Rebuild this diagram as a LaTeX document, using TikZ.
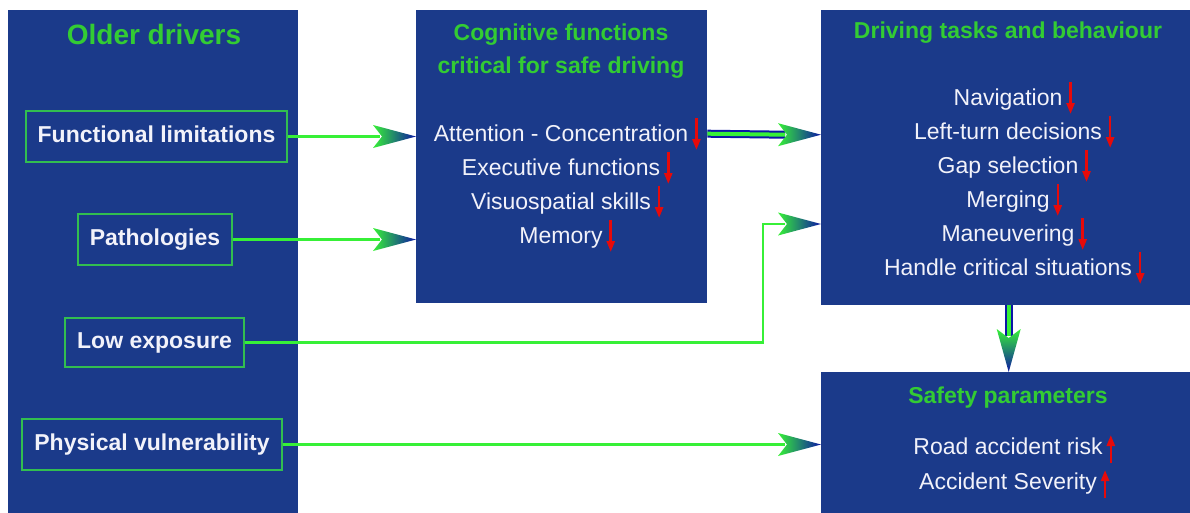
\documentclass[tikz,border=0pt]{standalone}
\usepackage{fontspec}
\setmainfont{Liberation Sans}
\usetikzlibrary{arrows.meta}

\definecolor{boxblue}{RGB}{27,58,138}
\definecolor{titlegreen}{RGB}{51,204,51}
\definecolor{linegreen}{RGB}{55,240,55}
\definecolor{boxgreen}{RGB}{50,190,80}
\definecolor{headblue}{RGB}{12,22,165}
\definecolor{textwhite}{RGB}{242,242,250}
\definecolor{downred}{RGB}{230,10,10}

\tikzset{
    bigbox/.style={fill=boxblue, inner sep=0pt, anchor=north west},
    ttl/.style={text=titlegreen, font=\fontsize{23}{33}\selectfont\bfseries, inner sep=0pt, align=center},
    item/.style={text=textwhite, font=\fontsize{23}{28}\selectfont, inner sep=0pt, anchor=base},
    lbl/.style={draw=boxgreen, line width=2pt, text=textwhite, font=\fontsize{23}{28}\selectfont\bfseries,
        minimum height=51pt, inner xsep=12pt, text height=17pt, text depth=5pt},
    link/.style={linegreen, line width=2.5pt},
    dbl/.style={draw=headblue, double=linegreen, line width=2pt, double distance=4pt},
    redarr/.style={downred, line width=2.5pt, -{Triangle[length=11pt, width=8pt]}},
    rhead/.pic={\shade[left color=linegreen, right color=headblue]
        (0,0) -- (-43,-11.5) -- (-34,0) -- (-43,11.5) -- cycle;},
    dhead/.pic={\shade[top color=linegreen, bottom color=headblue]
        (0,0) -- (-12,-43) -- (0,-34) -- (12,-43) -- cycle;},
}

\begin{document}
\begin{tikzpicture}[x=1pt, y=-1pt]
    \useasboundingbox (0,0) rectangle (1190,512);

    % the four dark boxes
    \node[bigbox, minimum width=290pt, minimum height=504pt] (old) at (8,10) {};
    \node[bigbox, minimum width=291pt, minimum height=293pt] (cog) at (416,10) {};
    \node[bigbox, minimum width=375pt, minimum height=295pt] (drive) at (821,10) {};
    \node[bigbox, minimum width=375pt, minimum height=145pt] (safe) at (821,372) {};

    % titles
    \node[ttl, font=\fontsize{28}{33}\selectfont\bfseries, anchor=base] (oldttl) at (154,44) {Older drivers};
    \node[ttl] (cogttl) at (561,51) {Cognitive functions\\critical for safe driving};
    \node[ttl, anchor=base] (drivettl) at (1008,38) {Driving tasks and behaviour};
    \node[ttl, anchor=base] (safettl) at (1008,403) {Safety parameters};

    % factors of older drivers
    \node[lbl] (fl) at (156.5,136.5) {Functional limitations};
    \node[lbl] (path) at (155,239.5) {Pathologies};
    \node[lbl, minimum height=49pt] (low) at (154.5,342.5) {Low exposure};
    \node[lbl] (phys) at (152,444.5) {Physical vulnerability};

    % items with red arrows
    \foreach \txt [count=\i] in {Attention - Concentration, Executive functions, Visuospatial skills, Memory} {
        \node[item] (c\i) at (561,107+34*\i) {\txt};
        \draw[redarr] ([xshift=8pt,yshift=23pt]c\i.base east) -- ([xshift=8pt,yshift=-9pt]c\i.base east);
    }
    \foreach \txt [count=\i] in {Navigation, Left-turn decisions, Gap selection, Merging, Maneuvering, Handle critical situations} {
        \node[item] (d\i) at (1008,71+34*\i) {\txt};
        \draw[redarr] ([xshift=8pt,yshift=23pt]d\i.base east) -- ([xshift=8pt,yshift=-9pt]d\i.base east);
    }
    \foreach \txt [count=\i] in {Road accident risk, Accident Severity} {
        \node[item] (s\i) at (1008,419+35*\i) {\txt};
        \draw[redarr] ([xshift=8pt,yshift=-9pt]s\i.base east) -- ([xshift=8pt,yshift=19pt]s\i.base east);
    }

    % connectors
    \draw[link] (fl.east) -- ([xshift=-36pt]cog.west |- fl.east);
    \pic at (cog.west |- fl.east) {rhead};
    \draw[link] (path.east) -- ([xshift=-36pt]cog.west |- path.east);
    \pic at (cog.west |- path.east) {rhead};
    \coordinate (lowin) at (821,224);
    \draw[link] (low.east) -| ([xshift=-58pt]lowin) -- ([xshift=-36pt]lowin);
    \pic at (lowin) {rhead};
    \draw[link] (phys.east) -- ([xshift=-36pt]safe.west |- phys.east);
    \pic at (safe.west |- phys.east) {rhead};

    % cognition to driving, driving to safety
    \draw[dbl] ([yshift=23pt]cog.east) -- ([xshift=-36pt,yshift=23pt]drive.west);
    \pic at ([yshift=23pt]drive.west) {rhead};
    \draw[dbl] (drive.south) -- ([yshift=36pt]safe.north);
    \pic at (safe.north) {dhead};
\end{tikzpicture}
\end{document}
